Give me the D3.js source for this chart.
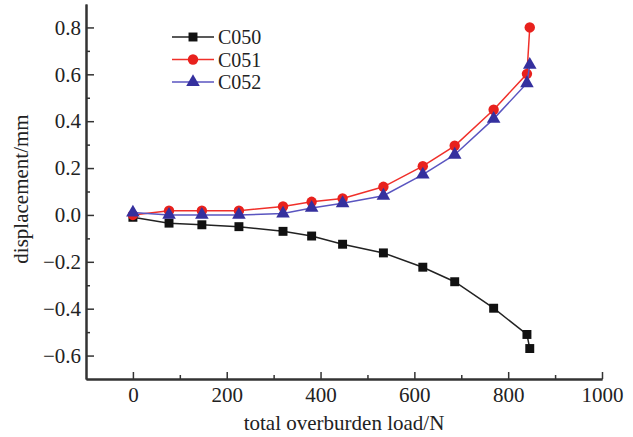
<!DOCTYPE html>
<html>
<head>
<meta charset="utf-8">
<script src="https://cdn.jsdelivr.net/npm/d3@7"></script>
<style>
  body { margin: 0; background: #fff; }
  svg { display: block; font-family: "Liberation Serif", "Times New Roman", serif; }
</style>
</head>
<body>
<svg width="633" height="437"></svg>
<script>
const svg = d3.select("svg");

const loads = [0, 77, 147, 226, 320, 381, 447, 534, 618, 686, 769, 840, 846];
const c050 = [-0.01, -0.035, -0.042, -0.05, -0.07, -0.09, -0.125, -0.162, -0.223, -0.285, -0.398, -0.51, -0.57];
const c051 = [0.0, 0.018, 0.018, 0.018, 0.036, 0.056, 0.07, 0.12, 0.208, 0.295, 0.449, 0.602, 0.8];
const c052 = [0.01, 0.0, 0.0, 0.0, 0.006, 0.03, 0.05, 0.082, 0.172, 0.257, 0.41, 0.562, 0.64];
const xTicks = [0, 200, 400, 600, 800, 1000];
const yTicks = [-0.6, -0.4, -0.2, 0.0, 0.2, 0.4, 0.6, 0.8];

const series = [
  { name: "C050", values: c050, line: "#222", fill: "#111", shape: d3.symbolSquare, size: 80 },
  { name: "C051", values: c051, line: "#f0302a", fill: "#e8211d", shape: d3.symbolCircle, size: 85 },
  { name: "C052", values: c052, line: "#5a55c0", fill: "#35309e", shape: d3.symbolTriangle, size: 80 }
];

const x = d3.scaleLinear().domain([-100, 1000]).range([86, 602]);
const y = d3.scaleLinear().domain([-0.7, 0.9]).range([379, 4]);

// axes: major ticks inward, minor ticks shorter
const xAxis = d3.axisBottom(x).tickValues(xTicks).tickSizeInner(-7).tickSizeOuter(0).tickPadding(8).tickFormat(d3.format("d"));
const xMinor = d3.axisBottom(x).tickValues([100, 300, 500, 700, 900]).tickSizeInner(-4).tickSizeOuter(0).tickFormat("");
const yAxis = d3.axisLeft(y).tickValues(yTicks).tickSizeInner(-8).tickSizeOuter(0).tickPadding(5).tickFormat(d3.format(".1f"));
const yMinor = d3.axisLeft(y).tickValues([-0.5, -0.3, -0.1, 0.1, 0.3, 0.5, 0.7]).tickSizeInner(-4).tickSizeOuter(0).tickFormat("");

function style(g) {
  g.attr("font-family", "Liberation Serif, serif").attr("font-size", 21);
  g.selectAll("path.domain").attr("stroke", "#333").attr("stroke-width", 2);
  g.selectAll(".tick line").attr("stroke", "#333").attr("stroke-width", 1.5);
  g.selectAll(".tick text").attr("fill", "#222");
}

svg.append("g").attr("transform", "translate(0,379)").call(xMinor).call(style);
svg.append("g").attr("transform", "translate(0,379)").call(xAxis).call(style);
svg.append("g").attr("transform", "translate(86,0)").call(yMinor).call(style);
svg.append("g").attr("transform", "translate(86,0)").call(yAxis).call(style);

// minus sign as in the original
svg.selectAll(".tick text").text(function () { return this.textContent.replace("-", "\u2212"); });

svg.append("text")
  .attr("x", 344).attr("y", 430)
  .attr("text-anchor", "middle")
  .attr("fill", "#222")
  .style("font-size", "21px")
  .text("total overburden load/N");

svg.append("text")
  .attr("transform", "translate(28,189) rotate(-90)")
  .attr("text-anchor", "middle")
  .attr("fill", "#222")
  .style("font-size", "21px")
  .text("displacement/mm");

const line = d3.line().x((d, i) => x(loads[i])).y(d => y(d));

series.forEach(s => {
  svg.append("path")
    .datum(s.values)
    .attr("fill", "none")
    .attr("stroke", s.line)
    .attr("stroke-width", 1.5)
    .attr("d", line);
  svg.selectAll(null)
    .data(s.values)
    .enter()
    .append("path")
    .attr("transform", (d, i) => `translate(${x(loads[i])},${y(d)})`)
    .attr("d", d3.symbol().type(s.shape).size(s.size))
    .attr("fill", s.fill);
});

// legend
const legend = svg.append("g").attr("transform", "translate(172,0)");
const legendY = [37, 59.5, 82];
series.forEach((s, i) => {
  const g = legend.append("g").attr("transform", `translate(0,${legendY[i]})`);
  g.append("line").attr("x1", 0).attr("x2", 42).attr("stroke", s.line).attr("stroke-width", 1.5);
  g.append("path").attr("transform", "translate(21,0)")
    .attr("d", d3.symbol().type(s.shape).size(s.size)).attr("fill", s.fill);
  g.append("text").attr("x", 46).attr("y", 7)
    .attr("fill", "#222").style("font-size", "20px").text(s.name);
});
</script>
</body>
</html>
